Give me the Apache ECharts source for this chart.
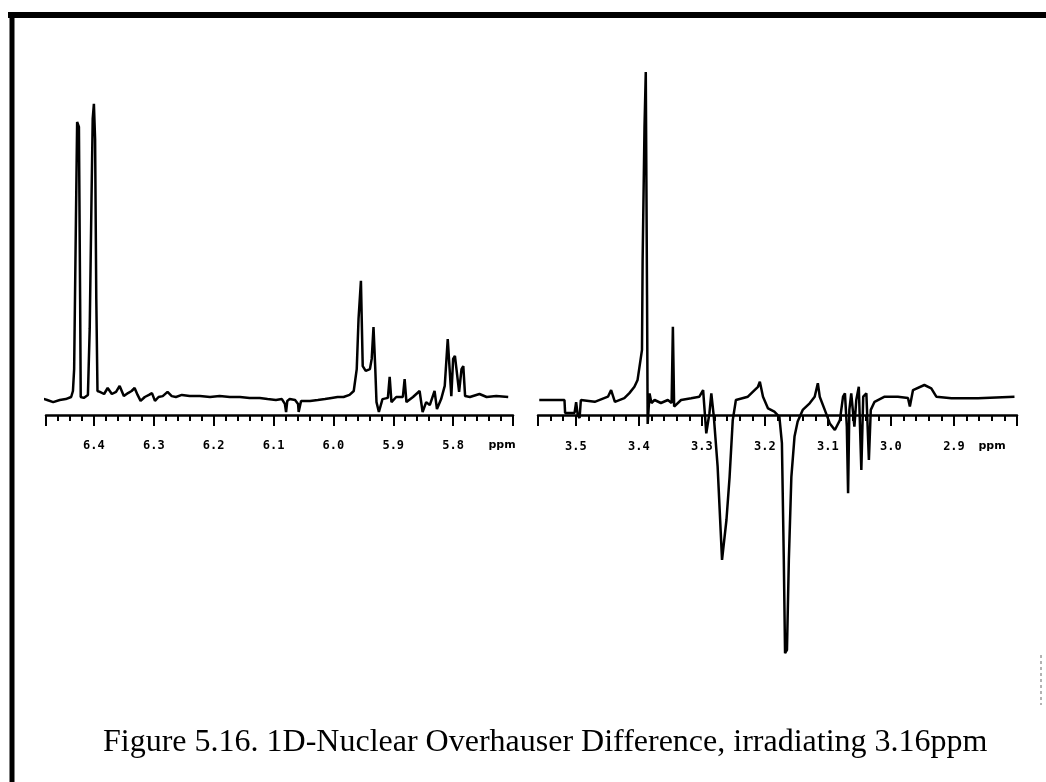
<!DOCTYPE html>
<html><head><meta charset="utf-8">
<script src="https://cdn.jsdelivr.net/npm/echarts@6/dist/echarts.min.js"></script>
<style>html,body{margin:0;padding:0;background:#fff}#c{width:1046px;height:782px}</style>
</head><body><div id="c"></div>
<script>
// Left panel (6.48 - 5.70 ppm)
const leftPpm = [6.502,6.490,6.478,6.468,6.457,6.447,6.438,6.435,6.433,6.430,
 6.428,6.425,6.423,6.422,6.417,6.410,6.407,6.404,6.402,6.400,
 6.398,6.396,6.394,6.390,6.383,6.377,6.370,6.363,6.357,6.350,
 6.343,6.337,6.332,6.327,6.322,6.315,6.308,6.303,6.298,6.292,
 6.285,6.277,6.270,6.263,6.253,6.240,6.223,6.206,6.190,6.173,
 6.156,6.140,6.123,6.110,6.096,6.086,6.081,6.079,6.077,6.073,
 6.064,6.059,6.058,6.054,6.051,6.039,6.026,6.014,6.003,5.993,
 5.983,5.973,5.966,5.961,5.958,5.954,5.951,5.946,5.939,5.936,
 5.933,5.930,5.928,5.924,5.918,5.909,5.906,5.903,5.895,5.884,
 5.881,5.878,5.867,5.856,5.851,5.845,5.839,5.831,5.827,5.820,
 5.814,5.809,5.803,5.800,5.797,5.794,5.790,5.786,5.783,5.780,
 5.772,5.756,5.744,5.728,5.708];
const leftInt = [5.0,5.7,5.0,4.3,5.0,5.3,6.0,8.0,15.3,65.3,
 97.7,96.0,38.7,6.0,5.7,6.7,28.7,72.0,98.7,103.7,
 92.0,38.7,8.0,7.7,7.0,9.0,7.0,7.7,9.7,6.3,
 7.3,8.0,9.0,6.7,4.7,6.0,6.7,7.3,4.7,6.0,
 6.3,7.7,6.3,6.0,6.7,6.3,6.3,6.0,6.3,6.0,
 6.0,5.7,5.7,5.3,5.0,5.3,3.7,1.0,4.7,5.3,
 5.0,3.7,1.0,4.7,5.3,4.7,5.0,5.3,5.7,6.0,
 6.0,6.7,8.0,15.3,32.0,44.7,16.3,14.7,15.3,18.7,
 29.3,15.3,4.3,1.0,5.3,5.7,12.7,4.3,6.0,6.0,
 12.0,4.3,6.0,8.0,1.0,4.3,3.3,8.0,2.0,5.3,
 9.7,25.3,6.3,18.7,19.7,19.3,7.7,15.3,16.3,6.3,
 6.0,7.0,6.0,6.3,6.0];

// Right panel (3.56 - 2.80 ppm)
const rightPpm = [3.558,3.537,3.518,3.517,3.502,3.4995,3.497,3.494,3.492,3.470,
 3.449,3.444,3.438,3.423,3.415,3.407,3.402,3.395,3.394,3.391,
 3.389,3.387,3.386,3.383,3.380,3.375,3.365,3.354,3.348,3.346,
 3.344,3.333,3.317,3.304,3.298,3.296,3.293,3.288,3.285,3.281,
 3.275,3.268,3.261,3.256,3.251,3.246,3.227,3.211,3.208,3.203,
 3.195,3.185,3.177,3.173,3.170,3.168,3.165,3.162,3.158,3.153,
 3.148,3.140,3.129,3.121,3.116,3.113,3.105,3.097,3.089,3.081,
 3.076,3.073,3.070,3.068,3.066,3.063,3.058,3.055,3.051,3.047,
 3.044,3.039,3.035,3.032,3.026,3.010,2.989,2.973,2.970,2.965,
 2.947,2.936,2.928,2.904,2.862,2.804];
const rightInt = [5,5,5,0.7,0.7,4.3,0,-1,5,4.4,
 6.1,8.3,4.4,5.6,7.3,9.4,11.7,21.7,51.7,96.1,
 114.3,40,-3,7.2,4,5,4,5,4,29.4,
 2.8,5,5.6,6.1,8.3,8.3,-6.1,0.6,7.2,-0.6,
 -17.2,-48.3,-35,-20.6,-1.7,5,6.1,9.4,11.1,6.1,
 2.2,1.1,-0.6,-9.4,-48.3,-79.4,-78.3,-48.3,-20.6,-7.2,
 -2.2,1.7,3.9,6.1,10.6,6.1,1.7,-2.8,-5,-1.7,
 6.1,7.2,-3.9,-26.1,1.7,7.2,-3.9,5,9.4,-18.3,
 6.1,7.2,-15,1.7,4.4,6.1,6.1,5.7,2.8,8.3,
 10,8.9,6.1,5.6,5.6,6.1];

const leftTickLabels = ['6.4','6.3','6.2','6.1','6.0','5.9','5.8'];
const rightTickLabels = ['3.5','3.4','3.3','3.2','3.1','3.0','2.9'];
const unitLabel = 'ppm';
const caption = 'Figure 5.16. 1D-Nuclear Overhauser Difference, irradiating 3.16ppm';

function fmt(labels, unitAt){
  return function(v){
    if (Math.abs(v*10 - Math.round(v*10)) > 1e-4) return '';
    const s = v.toFixed(1);
    if (s === unitAt) return '{u|' + unitLabel + '}';
    return labels.indexOf(s) >= 0 ? s : '';
  };
}
function minorAxis(grid, min, max, labels, unitAt, shift, margin){
  return {gridIndex:grid, type:'value', min:min, max:max, inverse:true, interval:0.02, position:'bottom',
    axisLine:{onZero:false, lineStyle:{color:'#000', width:2.5}},
    axisTick:{show:true, length:6, lineStyle:{color:'#000', width:2}},
    splitLine:{show:false},
    axisLabel:{margin:margin, color:'#000', fontFamily:'DejaVu Sans Mono', fontWeight:'bold', fontSize:12,
      formatter:fmt(labels, unitAt),
      rich:{u:{fontFamily:'DejaVu Sans', fontWeight:'bold', fontSize:11, color:'#000', padding:[0,shift,0,0]}}}};
}
function majorAxis(grid, min, max){
  return {gridIndex:grid, type:'value', min:min, max:max, inverse:true, interval:0.1, position:'bottom',
    axisLine:{show:false, onZero:false},
    axisTick:{show:true, length:11, lineStyle:{color:'#000', width:2}},
    axisLabel:{show:false}, splitLine:{show:false}};
}

const chart = echarts.init(document.getElementById('c'), null, {renderer:'canvas'});
chart.setOption({
  animation:false,
  backgroundColor:'#fff',
  title:{text:caption, left:98, top:722,
    textStyle:{fontFamily:'Liberation Serif', fontSize:32, fontWeight:'normal', color:'#000'}},
  grid:[
    {left:46, right:533, top:55, bottom:367},
    {left:538, right:29, top:55, bottom:367}
  ],
  xAxis:[
    minorAxis(0, 5.7, 6.48, leftTickLabels, '5.7', 22, 25),
    majorAxis(0, 5.7, 6.48),
    minorAxis(1, 2.8, 3.56, rightTickLabels, '2.8', 50, 26),
    majorAxis(1, 2.8, 3.56)
  ],
  yAxis:[
    {gridIndex:0, type:'value', min:0, max:120, show:false, splitLine:{show:false}},
    {gridIndex:1, type:'value', min:0, max:120, show:false, splitLine:{show:false}}
  ],
  series:[
    {type:'line', xAxisIndex:0, yAxisIndex:0, clip:false, showSymbol:false, symbol:'none',
      lineStyle:{color:'#000', width:2.5}, data:leftPpm.map((p,i)=>[p,leftInt[i]])},
    {type:'line', xAxisIndex:2, yAxisIndex:1, clip:false, showSymbol:false, symbol:'none',
      lineStyle:{color:'#000', width:2.5}, data:rightPpm.map((p,i)=>[p,rightInt[i]])}
  ],
  graphic:[
    {type:'line', shape:{x1:8, y1:15, x2:1046, y2:15}, style:{stroke:'#000', lineWidth:6}},
    {type:'line', shape:{x1:12, y1:12, x2:12, y2:782}, style:{stroke:'#000', lineWidth:5}},
    {type:'line', shape:{x1:1041, y1:655, x2:1041, y2:705}, style:{stroke:'#666', lineWidth:1, lineDash:[3,3]}}
  ]
});
</script></body></html>
